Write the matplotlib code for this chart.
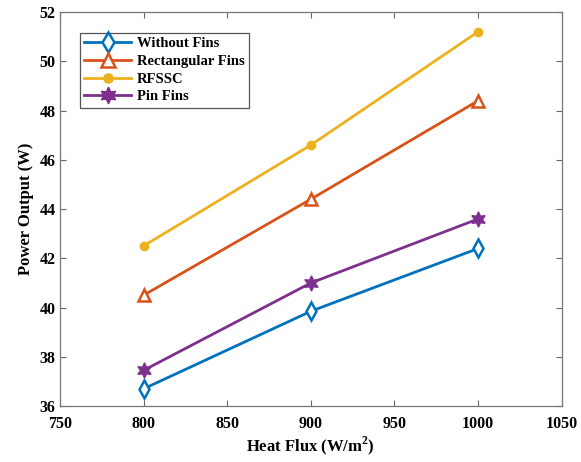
import matplotlib
matplotlib.use("Agg")
import matplotlib.pyplot as plt

heat_flux = [800, 900, 1000]
without_fins = [36.7, 39.85, 42.4]
rectangular_fins = [40.5, 44.4, 48.4]
rfssc = [42.5, 46.6, 51.2]
pin_fins = [37.45, 41.0, 43.6]

plt.rcParams['font.family'] = ['Liberation Serif', 'DejaVu Serif']
plt.rcParams['font.weight'] = 'bold'
plt.rcParams['mathtext.fontset'] = 'custom'
plt.rcParams['mathtext.bf'] = 'Liberation Serif:bold'

fig = plt.figure(figsize=(5.81, 4.62), dpi=100)
ax = fig.add_axes([0.103, 0.121, 0.864, 0.853])

ax.plot(heat_flux, without_fins, color='#0072BD', lw=2, marker='d', ms=9,
        mfc='white', mec='#0072BD', mew=1.8, label='Without Fins')
ax.plot(heat_flux, rectangular_fins, color='#D95319', lw=2, marker='^', ms=9,
        mfc='white', mec='#D95319', mew=1.8, label='Rectangular Fins')
ax.plot(heat_flux, rfssc, color='#EDB120', lw=2, marker='o', ms=6,
        mfc='#EDB120', mec='#EDB120', label='RFSSC')
ax.plot(heat_flux, pin_fins, color='#7E2F8E', lw=2, marker=(6, 1, 0), ms=11,
        mfc='#7E2F8E', mec='#7E2F8E', label='Pin Fins')

ax.set_xlim(750, 1050)
ax.set_ylim(36, 52)
ax.set_xticks(range(750, 1051, 50))
ax.set_yticks(range(36, 53, 2))
ax.tick_params(direction='in', top=True, right=True, labelsize=11.5, length=4,
               color='#666666', pad=3)
ax.tick_params(axis='x', pad=7)
for lab in ax.get_xticklabels() + ax.get_yticklabels():
    lab.set_fontweight('bold')
for s in ax.spines.values():
    s.set_linewidth(0.9)
    s.set_color('#777777')

ax.set_xlabel('Heat Flux (W/m$^\\mathbf{2}$)', fontsize=12, fontweight='bold',
              labelpad=2)
ax.set_ylabel('Power Output (W)', fontsize=12, fontweight='bold')

leg = ax.legend(loc='upper left', bbox_to_anchor=(0.04, 0.947), fontsize=10.5,
                fancybox=False, edgecolor='#555555', framealpha=1,
                handlelength=3.2, handletextpad=0.4, borderpad=0.3,
                labelspacing=0.3, borderaxespad=0, markerscale=1.1)
leg.get_frame().set_linewidth(0.9)

fig.savefig('out.png', dpi=100)
